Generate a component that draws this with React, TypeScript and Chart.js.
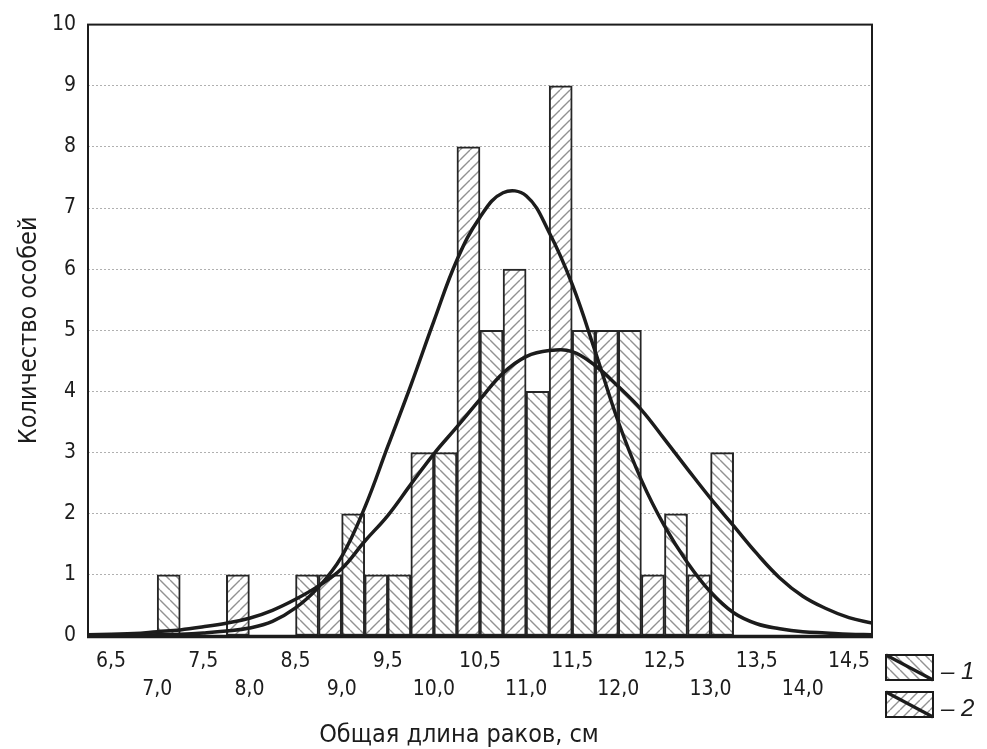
import React, { useEffect, useRef } from 'react';
import { Chart, registerables } from 'chart.js';

Chart.register(...registerables);

// ---- data ----
const binStarts = [7.0, 7.5, 8.0, 8.5, 9.0, 9.5, 10.0, 10.5, 11.0, 11.5, 12.0, 12.5, 13.0];
const counts1 = [1, 0, 0, 1, 2, 1, 3, 5, 4, 5, 5, 2, 3];
const counts2 = [0, 1, 0, 1, 1, 3, 8, 6, 9, 5, 1, 1, 0];
const BIN_WIDTH = 0.5;

const curveX = [6.25, 6.5, 6.75, 7.0, 7.25, 7.5, 7.75, 8.0, 8.25, 8.5, 8.75, 9.0, 9.25, 9.5, 9.75, 10.0, 10.25, 10.5, 10.75, 11.0, 11.25, 11.5, 11.75, 12.0, 12.25, 12.5, 12.75, 13.0, 13.25, 13.5, 13.75, 14.0, 14.25, 14.5, 14.75];
const curve1 = [0.02, 0.03, 0.04, 0.07, 0.1, 0.15, 0.21, 0.29, 0.42, 0.6, 0.82, 1.1, 1.55, 1.97, 2.48, 2.98, 3.42, 3.87, 4.3, 4.57, 4.67, 4.65, 4.42, 4.08, 3.7, 3.22, 2.73, 2.25, 1.8, 1.35, 0.95, 0.65, 0.45, 0.3, 0.21];
const curve2 = [0.0, 0.0, 0.01, 0.02, 0.03, 0.05, 0.08, 0.13, 0.24, 0.46, 0.8, 1.3, 2.1, 3.1, 4.1, 5.15, 6.15, 6.85, 7.25, 7.2, 6.6, 5.75, 4.65, 3.5, 2.55, 1.8, 1.2, 0.72, 0.38, 0.2, 0.12, 0.07, 0.05, 0.03, 0.02];

const xTickValues = [6.5, 7.0, 7.5, 8.0, 8.5, 9.0, 9.5, 10.0, 10.5, 11.0, 11.5, 12.0, 12.5, 13.0, 13.5, 14.0, 14.5];
const xTickLabels = ['6,5', '7,0', '7,5', '8,0', '8,5', '9,0', '9,5', '10,0', '10,5', '11,0', '11,5', '12,0', '12,5', '13,0', '13,5', '14,0', '14,5'];
const X_MIN = 6.25;
const X_MAX = 14.75;
const Y_MIN = 0;
const Y_MAX = 10;
const Y_STEP = 1;

const seriesNames = ['– 1', '– 2'];
const X_TITLE = 'Общая длина раков, см';
const Y_TITLE = 'Количество особей';

const NARROW = "'Liberation Sans Narrow', 'DejaVu Sans Condensed', 'Arial Narrow', sans-serif";
const INK = '#1c1c1c';

function makeHatch(ctx: CanvasRenderingContext2D, dir: number): CanvasPattern {
  const s = 10;
  const c = document.createElement('canvas');
  c.width = s;
  c.height = s;
  const g = c.getContext('2d') as CanvasRenderingContext2D;
  g.fillStyle = '#ffffff';
  g.fillRect(0, 0, s, s);
  g.strokeStyle = '#929292';
  g.lineWidth = 1.4;
  g.beginPath();
  for (let k = -1; k <= 1; k++) {
    if (dir === 1) {
      g.moveTo(k * s, 0);
      g.lineTo(k * s + s, s);
    } else {
      g.moveTo(k * s + s, 0);
      g.lineTo(k * s, s);
    }
  }
  g.stroke();
  return ctx.createPattern(c, 'repeat') as CanvasPattern;
}

export default function App() {
  const ref = useRef<HTMLCanvasElement | null>(null);

  useEffect(() => {
    const canvas = ref.current;
    if (!canvas) return;
    const ctx = canvas.getContext('2d') as CanvasRenderingContext2D;
    const hatch1 = makeHatch(ctx, 1);
    const hatch2 = makeHatch(ctx, -1);
    const patterns = [hatch1, hatch2];

    const bars1 = binStarts.map((b, i) => ({ x: b + BIN_WIDTH / 4, y: counts1[i] > 0 ? counts1[i] : null }));
    const bars2 = binStarts.map((b, i) => ({ x: b + (3 * BIN_WIDTH) / 4, y: counts2[i] > 0 ? counts2[i] : null }));
    const line1 = curveX.map((x, i) => ({ x, y: curve1[i] }));
    const line2 = curveX.map((x, i) => ({ x, y: curve2[i] }));

    const decorPlugin = {
      id: 'decor',
      afterDatasetsDraw(chart: any) {
        const c = chart.ctx as CanvasRenderingContext2D;
        const a = chart.chartArea;
        c.save();
        c.strokeStyle = INK;
        c.lineWidth = 2;
        c.strokeRect(a.left, a.top, a.right - a.left, a.bottom - a.top);
        c.lineWidth = 3.5;
        c.beginPath();
        c.moveTo(a.left - 1, a.bottom + 0.5);
        c.lineTo(a.right + 1, a.bottom + 0.5);
        c.stroke();
        c.restore();
      },
      afterDraw(chart: any) {
        const c = chart.ctx as CanvasRenderingContext2D;
        const a = chart.chartArea;
        c.save();
        // x axis title
        c.fillStyle = INK;
        c.font = `25px ${NARROW}`;
        c.textAlign = 'center';
        c.textBaseline = 'alphabetic';
        c.fillText(X_TITLE, (a.left + a.right) / 2 - 21, a.bottom + 106);
        // legend
        const w = 47;
        const h = 25;
        const bx = a.right + 14;
        const tops = [a.bottom + 19, a.bottom + 56];
        for (let i = 0; i < 2; i++) {
          const by = tops[i];
          c.fillStyle = patterns[i];
          c.fillRect(bx, by, w, h);
          c.strokeStyle = INK;
          c.lineWidth = 2;
          c.strokeRect(bx, by, w, h);
          c.lineWidth = 3.2;
          c.beginPath();
          c.moveTo(bx, by);
          c.lineTo(bx + w, by + h);
          c.stroke();
          c.fillStyle = INK;
          c.font = "italic 24px 'Liberation Sans', Arial, sans-serif";
          c.textAlign = 'left';
          c.textBaseline = 'alphabetic';
          c.fillText(seriesNames[i], bx + w + 8, by + h - 1);
        }
        c.restore();
      },
    };

    const chart = new Chart(canvas, {
      type: 'bar',
      data: {
        datasets: [
          {
            type: 'line',
            label: 'curve1',
            data: line1,
            borderColor: INK,
            borderWidth: 3.5,
            pointRadius: 0,
            fill: false,
            tension: 0.4,
            order: 0,
          } as any,
          {
            type: 'line',
            label: 'curve2',
            data: line2,
            borderColor: INK,
            borderWidth: 3.5,
            pointRadius: 0,
            fill: false,
            tension: 0.4,
            order: 0,
          } as any,
          {
            type: 'bar',
            label: seriesNames[0],
            data: bars1,
            backgroundColor: hatch1,
            borderColor: '#262626',
            borderWidth: 2,
            borderSkipped: false,
            grouped: false,
            barPercentage: 1,
            categoryPercentage: 1,
            order: 2,
          } as any,
          {
            type: 'bar',
            label: seriesNames[1],
            data: bars2,
            backgroundColor: hatch2,
            borderColor: '#262626',
            borderWidth: 2,
            borderSkipped: false,
            grouped: false,
            barPercentage: 1,
            categoryPercentage: 1,
            order: 2,
          } as any,
        ],
      },
      options: {
        animation: false,
        responsive: false,
        events: [],
        layout: { padding: { top: 18, right: 115, left: 0, bottom: 0 } },
        plugins: {
          legend: { display: false },
          tooltip: { enabled: false },
          title: { display: false },
        },
        scales: {
          x: {
            type: 'linear',
            min: X_MIN,
            max: X_MAX,
            offset: false,
            afterBuildTicks: (scale: any) => {
              scale.ticks = xTickValues.map((v) => ({ value: v }));
            },
            afterFit: (scale: any) => {
              scale.height = 113;
            },
            grid: { display: false, drawTicks: false, offset: false },
            border: { display: false },
            ticks: {
              autoSkip: false,
              maxRotation: 0,
              minRotation: 0,
              padding: 12,
              color: INK,
              font: { family: NARROW, size: 21, lineHeight: 28 / 21 },
              callback: (_v: any, i: number) => (i % 2 === 0 ? [xTickLabels[i], ''] : ['', xTickLabels[i]]),
            },
          },
          y: {
            type: 'linear',
            min: Y_MIN,
            max: Y_MAX,
            afterFit: (scale: any) => {
              scale.width = 88;
            },
            grid: { color: '#b0b0b0', lineWidth: 1, drawTicks: false },
            border: { display: false, dash: [2, 2] },
            ticks: {
              stepSize: Y_STEP,
              padding: 12,
              color: INK,
              font: { family: NARROW, size: 21 },
            },
            title: {
              display: true,
              text: Y_TITLE,
              color: INK,
              font: { family: NARROW, size: 25, lineHeight: 1 },
              padding: { top: 17, bottom: 0 },
            },
          },
        },
      } as any,
      plugins: [decorPlugin],
    });

    return () => {
      chart.destroy();
    };
  }, []);

  return (
    <canvas
      ref={ref}
      width={987}
      height={749}
      style={{ position: 'fixed', left: 0, top: 0, display: 'block', background: '#ffffff' }}
    />
  );
}
